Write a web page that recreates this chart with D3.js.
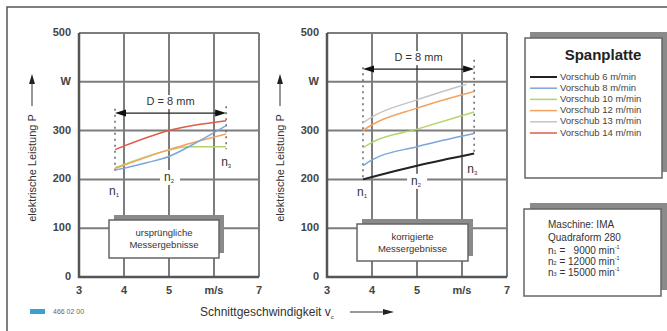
<!DOCTYPE html>
<html>
<head>
<meta charset="utf-8">
<script src="https://cdn.jsdelivr.net/npm/d3@7"></script>
<style>
  body { margin: 0; background: #fff; }
  svg { display: block; font-family: "Liberation Sans", Arial, sans-serif; }
</style>
</head>
<body>
<svg id="chart"></svg>
<script>
// Werte
const feedLabels = ['Vorschub 6 m/min', 'Vorschub 8 m/min', 'Vorschub 10 m/min',
  'Vorschub 12 m/min', 'Vorschub 13 m/min', 'Vorschub 14 m/min'];
const feedColors = ['#222222', '#7ba7d8', '#b3d46a', '#f4a25e', '#c4c4c4', '#dd5d45'];

const xTicks = [3, 4, 5, 6, 7];
const xTickLabels = ['3', '4', '5', 'm/s', '7'];
const yTicks = [0, 100, 200, 300, 400, 500];
const yTickLabels = ['0', '100', '200', '300', 'W', '500'];

// ursprüngliche Messergebnisse
const orig8 = [[3.8, 219], [4.5, 234], [5, 247], [5.5, 270], [6.27, 310]];
const orig10 = [[3.8, 224], [5, 260], [5.4, 267], [6.27, 267]];
const orig12 = [[3.8, 222], [5, 261], [6.27, 293]];
const orig14 = [[3.8, 261], [5, 300], [6.27, 320]];

// korrigierte Messergebnisse
const corr6 = [[3.8, 200], [4, 205], [5, 228], [6.27, 253]];
const corr8 = [[3.8, 228], [4, 240], [5, 267], [6.27, 294]];
const corr10 = [[3.8, 265], [4, 276], [5, 303], [6.27, 338]];
const corr12 = [[3.8, 300], [4, 312], [5, 346], [6.27, 380]];
const corr13 = [[3.8, 316], [4, 328], [5, 363], [6.1, 395]];

const machineLines = ['Maschine: IMA', 'Quadraform 280'];
const speedNames = ['1', '2', '3'];
const speedValues = ['  9000', '12000', '15000'];

const W = 667, H = 331;
const svg = d3.select('#chart').attr('width', W).attr('height', H);
svg.append('rect').attr('width', W).attr('height', H).attr('fill', '#fff');

// Rahmen
svg.append('path').attr('d', `M7,${H} V7 H${W}`)
  .attr('fill', 'none').attr('stroke', '#555').attr('stroke-width', 1.5);

const y = d3.scaleLinear().domain([0, 500]).range([277, 33]);

function nLabel(g, x, yy, sub, knockout) {
  if (knockout) {
    g.append('rect').attr('x', x - 9).attr('y', yy - 8).attr('width', 20).attr('height', 15).attr('fill', '#fff');
  }
  const t = g.append('text').attr('x', x).attr('y', yy).attr('text-anchor', 'middle')
    .attr('dominant-baseline', 'middle').style('font-size', '12px').attr('fill', '#333');
  t.append('tspan').text('n');
  t.append('tspan').attr('dy', 3).style('font-size', '6px').text(sub);
}

function drawPanel(x0, series, colors, dash, arrowP, nPos, box) {
  const x = d3.scaleLinear().domain([3, 7]).range([x0, x0 + 180]);
  const g = svg.append('g');

  // Gitter
  g.selectAll('.vg').data(xTicks.slice(1)).enter().append('line')
    .attr('x1', d => x(d)).attr('x2', d => x(d)).attr('y1', y(0)).attr('y2', y(500))
    .attr('stroke', '#7d7d7d').attr('stroke-width', 2);
  g.selectAll('.hg').data(yTicks.slice(1)).enter().append('line')
    .attr('x1', x(3)).attr('x2', x(7)).attr('y1', d => y(d)).attr('y2', d => y(d))
    .attr('stroke', '#7d7d7d').attr('stroke-width', 2);
  // Achsen
  g.append('path').attr('d', `M${x(3)},${y(500)} V${y(0)} H${x(7)}`)
    .attr('fill', 'none').attr('stroke', '#555').attr('stroke-width', 2.5);

  g.selectAll('.yt').data(yTicks).enter().append('text')
    .attr('x', x(3) - 8).attr('y', d => y(d)).attr('text-anchor', 'end')
    .attr('dominant-baseline', 'middle').style('font-size', '11px').style('font-weight', 'bold')
    .attr('fill', '#444').text((d, i) => yTickLabels[i]);
  g.selectAll('.xt').data(xTicks).enter().append('text')
    .attr('x', d => x(d)).attr('y', 294).attr('text-anchor', 'middle')
    .style('font-size', '11px').style('font-weight', 'bold')
    .attr('fill', '#444').text((d, i) => xTickLabels[i]);

  // Achsentitel y
  const ax = x0 - 47;
  g.append('text').attr('transform', `translate(${ax + 4},168) rotate(-90)`)
    .attr('text-anchor', 'middle').style('font-size', '11px').attr('fill', '#333')
    .text('elektrische Leistung P');
  g.append('line').attr('x1', ax).attr('x2', ax).attr('y1', 106).attr('y2', 82)
    .attr('stroke', '#333').attr('stroke-width', 1);
  g.append('path').attr('d', `M${ax - 3},84 L${ax},74 L${ax + 3},84 Z`).attr('fill', '#222');

  // Box
  g.append('rect').attr('x', box[0] + 5).attr('y', box[1] - 5).attr('width', box[2]).attr('height', box[3])
    .attr('fill', '#8a8a8a');
  g.append('rect').attr('x', box[0]).attr('y', box[1]).attr('width', box[2]).attr('height', box[3])
    .attr('fill', '#fff').attr('stroke', '#666').attr('stroke-width', 1.5);
  box[4].forEach((t, i) => {
    g.append('text').attr('x', box[0] + box[2] / 2).attr('y', box[1] + 13 + i * 12.5)
      .attr('text-anchor', 'middle').attr('dominant-baseline', 'middle')
      .style('font-size', '9.5px').attr('fill', '#333').text(t);
  });

  // gestrichelte Begrenzungen
  dash.forEach(d => {
    g.append('line').attr('x1', x(d[0])).attr('x2', x(d[0])).attr('y1', y(d[1])).attr('y2', y(d[2]))
      .attr('stroke', '#666').attr('stroke-width', 1.5).attr('stroke-dasharray', '2,4');
  });

  // Kurven
  const line = d3.line().x(d => x(d[0])).y(d => y(d[1])).curve(d3.curveMonotoneX);
  series.forEach((s, i) => {
    g.append('path').datum(s).attr('d', line).attr('fill', 'none')
      .attr('stroke', colors[i]).attr('stroke-width', colors[i] === '#222222' ? 2 : 1.5);
  });

  // D = 8 mm
  const xa = x(dash[0][0]), xb = x(dash[1][0]), ya = y(arrowP);
  g.append('rect').attr('x', (xa + xb) / 2 - 30).attr('y', ya - 18).attr('width', 60).attr('height', 14)
    .attr('fill', '#fff');
  g.append('line').attr('x1', xa + 8).attr('x2', xb - 8).attr('y1', ya).attr('y2', ya)
    .attr('stroke', '#222').attr('stroke-width', 1.2);
  g.append('path').attr('d', `M${xa},${ya} L${xa + 11},${ya - 3.5} L${xa + 11},${ya + 3.5} Z`).attr('fill', '#111');
  g.append('path').attr('d', `M${xb},${ya} L${xb - 11},${ya - 3.5} L${xb - 11},${ya + 3.5} Z`).attr('fill', '#111');
  g.append('text').attr('x', (xa + xb) / 2).attr('y', ya - 11).attr('text-anchor', 'middle')
    .attr('dominant-baseline', 'middle').style('font-size', '11px').attr('fill', '#333').text('D = 8 mm');

  nPos.forEach((p, i) => nLabel(g, x(p[0]), y(p[1]), speedNames[i], i === 1));
}

drawPanel(79, [orig10, orig12, orig8, orig14], [feedColors[2], feedColors[3], feedColors[1], feedColors[5]],
  [[3.8, 345, 212], [6.27, 350, 262]], 336,
  [[3.78, 174], [5, 203], [6.27, 234]],
  [109, 220, 110, 38, ['ursprüngliche', 'Messergebnisse']]);

drawPanel(327, [corr13, corr12, corr10, corr8, corr6],
  [feedColors[4], feedColors[3], feedColors[2], feedColors[1], feedColors[0]],
  [[3.8, 430, 198], [6.27, 445, 255]], 426,
  [[3.78, 172], [4.98, 195], [6.23, 219]],
  [357, 224, 111, 37, ['korrigierte', 'Messergebnisse']]);

// x-Achsentitel
const xl = svg.append('text').attr('x', 200).attr('y', 316).style('font-size', '12px').attr('fill', '#333');
xl.append('tspan').text('Schnittgeschwindigkeit  v');
xl.append('tspan').attr('dy', 3).style('font-size', '6px').text('c');
svg.append('line').attr('x1', 350).attr('x2', 385).attr('y1', 312).attr('y2', 312).attr('stroke', '#333').attr('stroke-width', 1);
svg.append('path').attr('d', 'M383,309 L394,312 L383,315 Z').attr('fill', '#222');

// Legende
const lg = svg.append('g');
lg.append('rect').attr('x', 530).attr('y', 32).attr('width', 137).attr('height', 140).attr('fill', '#8a8a8a');
lg.append('rect').attr('x', 525).attr('y', 38).attr('width', 137).attr('height', 140)
  .attr('fill', '#fff').attr('stroke', '#666').attr('stroke-width', 1.5);
lg.append('text').attr('x', 603).attr('y', 56).attr('text-anchor', 'middle').attr('dominant-baseline', 'middle')
  .style('font-size', '15px').style('font-weight', 'bold').attr('fill', '#222').text('Spanplatte');
feedLabels.forEach((l, i) => {
  const yy = 77 + i * 11.2;
  lg.append('line').attr('x1', 530).attr('x2', 557).attr('y1', yy).attr('y2', yy)
    .attr('stroke', feedColors[i]).attr('stroke-width', i === 0 ? 2 : 1.5);
  lg.append('text').attr('x', 560).attr('y', yy).attr('dominant-baseline', 'middle')
    .style('font-size', '9.5px').attr('fill', '#444').text(l);
});

// Maschinendaten
const mg = svg.append('g');
mg.append('rect').attr('x', 530).attr('y', 203).attr('width', 137).attr('height', 87).attr('fill', '#8a8a8a');
mg.append('rect').attr('x', 524).attr('y', 209).attr('width', 137).attr('height', 87)
  .attr('fill', '#fff').attr('stroke', '#666').attr('stroke-width', 1.5);
machineLines.forEach((l, i) => {
  mg.append('text').attr('x', 548).attr('y', 225 + i * 13).attr('dominant-baseline', 'middle')
    .style('font-size', '10px').attr('fill', '#333').text(l);
});
speedNames.forEach((n, i) => {
  const t = mg.append('text').attr('x', 548).attr('y', 251 + i * 11).attr('dominant-baseline', 'middle')
    .style('font-size', '10px').attr('fill', '#333').style('white-space', 'pre');
  t.append('tspan').text('n');
  t.append('tspan').attr('dy', 2).style('font-size', '5.5px').text(n);
  t.append('tspan').attr('dy', -2).text(' = ' + speedValues[i] + ' min');
  t.append('tspan').attr('dy', -3).style('font-size', '5.5px').text('-1');
});

// Fußzeile
svg.append('rect').attr('x', 30).attr('y', 309).attr('width', 15).attr('height', 5).attr('fill', '#3aa0d0');
svg.append('text').attr('x', 53).attr('y', 314).style('font-size', '7px').attr('fill', '#666').text('466 02 00');
</script>
</body>
</html>
